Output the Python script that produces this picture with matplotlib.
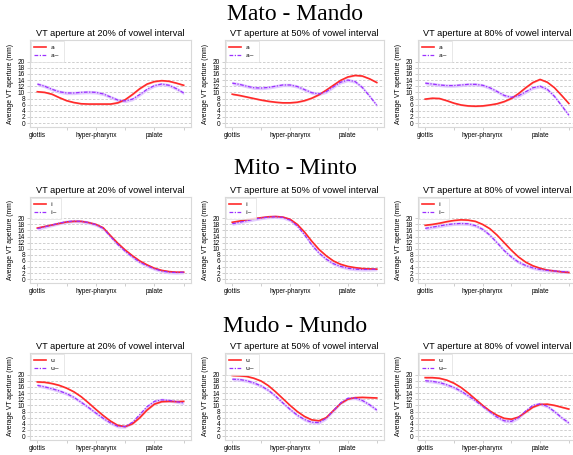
import numpy as np
import matplotlib
matplotlib.use("Agg")
import matplotlib.pyplot as plt

# ---------------- data ----------------
row_titles = ["Mato - Mando", "Mito - Minto", "Mudo - Mundo"]
col_titles = ["VT aperture at 20% of vowel interval",
              "VT aperture at 50% of vowel interval",
              "VT aperture at 80% of vowel interval"]
oral_labels = ["a", "i", "u"]
nasal_labels = ["a~", "i~", "u~"]
x_tick_labels = ["glottis", "", "hyper-pharynx", "", "palate", ""]
y_ticks = list(range(0, 21, 2))

# sampled at 21 equally spaced points from glottis to lips
a20_oral = [10.2, 10.0, 9.4, 8.3, 7.3, 6.7, 6.3, 6.2, 6.2, 6.2, 6.2, 6.6, 7.6, 9.3, 11.2, 12.7, 13.5, 13.8, 13.6, 13.0, 12.3]
a20_nasal = [12.7, 12.0, 11.0, 10.2, 9.8, 9.8, 10.0, 10.1, 10.0, 9.5, 8.5, 7.5, 7.2, 7.8, 9.3, 11.0, 12.2, 12.7, 12.3, 11.2, 9.8]
a50_oral = [9.4, 9.0, 8.5, 8.0, 7.5, 7.1, 6.8, 6.6, 6.6, 6.8, 7.3, 8.1, 9.2, 10.7, 12.3, 13.9, 15.0, 15.5, 15.3, 14.4, 13.2]
a50_nasal = [13.0, 12.6, 12.0, 11.5, 11.4, 11.6, 12.0, 12.4, 12.4, 11.9, 10.9, 9.9, 9.5, 10.2, 11.8, 13.3, 14.0, 13.5, 11.6, 8.8, 5.8]
a80_oral = [7.8, 8.1, 8.0, 7.3, 6.5, 5.9, 5.6, 5.5, 5.6, 5.9, 6.3, 7.0, 8.0, 9.6, 11.5, 13.2, 14.2, 13.3, 11.5, 9.0, 6.4]
a80_nasal = [13.0, 12.7, 12.4, 12.2, 12.2, 12.4, 12.6, 12.6, 12.3, 11.5, 10.3, 9.0, 8.4, 8.9, 10.2, 11.5, 12.0, 11.0, 8.7, 5.7, 2.6]

i20_oral = [16.8, 17.3, 17.8, 18.3, 18.8, 19.0, 19.0, 18.6, 18.0, 16.9, 14.3, 11.8, 9.6, 7.7, 6.0, 4.7, 3.6, 2.9, 2.5, 2.3, 2.3]
i20_nasal = [16.6, 17.2, 17.8, 18.4, 18.9, 19.1, 19.0, 18.6, 17.9, 16.7, 14.0, 11.4, 9.2, 7.3, 5.6, 4.4, 3.4, 2.7, 2.3, 2.2, 2.3]
i50_oral = [18.7, 19.1, 19.5, 19.9, 20.2, 20.5, 20.6, 20.4, 19.7, 18.0, 15.5, 12.5, 9.8, 7.7, 6.0, 4.9, 4.2, 3.8, 3.5, 3.4, 3.3]
i50_nasal = [18.2, 18.7, 19.2, 19.7, 20.1, 20.4, 20.5, 20.3, 19.4, 17.5, 14.6, 11.3, 8.6, 6.6, 5.1, 4.2, 3.6, 3.3, 3.2, 3.2, 3.3]
i80_oral = [17.7, 18.0, 18.4, 18.9, 19.3, 19.5, 19.4, 19.0, 18.0, 16.6, 14.5, 12.0, 9.5, 7.3, 5.6, 4.4, 3.6, 3.0, 2.7, 2.4, 2.2]
i80_nasal = [16.7, 17.1, 17.5, 17.9, 18.2, 18.3, 18.2, 17.6, 16.4, 14.5, 12.0, 9.4, 7.3, 5.6, 4.5, 3.7, 3.2, 2.9, 2.7, 2.5, 2.4]

u20_oral = [17.6, 17.5, 17.1, 16.5, 15.6, 14.4, 12.8, 10.8, 8.7, 6.7, 4.9, 3.5, 3.1, 4.0, 6.0, 8.5, 10.4, 11.2, 11.3, 11.2, 11.3]
u20_nasal = [16.5, 16.0, 15.4, 14.7, 13.8, 12.6, 11.0, 9.3, 7.5, 5.8, 4.3, 3.2, 3.1, 4.5, 7.0, 9.6, 11.3, 11.8, 11.6, 11.2, 10.8]
u50_oral = [19.7, 19.6, 19.4, 18.8, 17.9, 16.4, 14.4, 12.2, 10.0, 8.0, 6.4, 5.3, 5.0, 6.0, 8.3, 10.6, 12.0, 12.5, 12.6, 12.5, 12.4]
u50_nasal = [18.5, 18.4, 18.0, 17.3, 16.3, 14.9, 13.0, 10.8, 8.7, 6.8, 5.4, 4.5, 4.4, 5.8, 8.3, 10.8, 12.3, 12.4, 11.6, 10.2, 8.5]
u80_oral = [19.0, 19.0, 18.8, 18.2, 17.2, 15.8, 14.0, 12.0, 10.0, 8.2, 6.8, 5.8, 5.5, 6.2, 7.8, 9.4, 10.3, 10.4, 10.0, 9.4, 8.8]
u80_nasal = [18.0, 17.8, 17.4, 16.7, 15.8, 14.6, 13.1, 11.5, 9.7, 7.9, 6.2, 5.0, 4.8, 6.0, 8.2, 10.0, 10.5, 9.7, 8.0, 6.0, 4.3]

oral_ci = 0.25
nasal_ci = 0.55

panels = [
    [(a20_oral, a20_nasal), (a50_oral, a50_nasal), (a80_oral, a80_nasal)],
    [(i20_oral, i20_nasal), (i50_oral, i50_nasal), (i80_oral, i80_nasal)],
    [(u20_oral, u20_nasal), (u50_oral, u50_nasal), (u80_oral, u80_nasal)],
]

# ---------------- layout ----------------
W, H = 573, 455
fig = plt.figure(figsize=(W / 100, H / 100), dpi=100)

col_x = [(30, 191), (225, 384), (418, 576)]
row_y = [(40, 127), (197, 283), (353, 440)]
sup_y = [15, 169, 326]

red = "#ff2a2a"
purple = "#9b30ff"
grid_c = "#c8c8c8"
spine_c = "#d9d9d9"

for r in range(3):
    fig.text(295 / W, 1 - sup_y[r] / H, row_titles[r], ha="center", va="center",
             fontsize=17, family="Liberation Serif")
    for c in range(3):
        x0, x1 = col_x[c]
        y0, y1 = row_y[r]
        ax = fig.add_axes([x0 / W, 1 - y1 / H, (x1 - x0) / W, (y1 - y0) / H])
        oral, nasal = panels[r][c]
        oral = np.array(oral)
        nasal = np.array(nasal)
        xs = np.linspace(0, 5, len(oral))
        ax.fill_between(xs, oral - oral_ci, oral + oral_ci, color="#ffb3b3", lw=0, alpha=0.8)
        ax.fill_between(xs, nasal - nasal_ci, nasal + nasal_ci, color="#dcc0ff", lw=0, alpha=0.8)
        ax.plot(xs, oral, color=red, lw=1.2, label=oral_labels[r])
        ax.plot(xs, nasal, color=purple, lw=0.9, ls=(0, (3, 1.2, 1, 1.2)), label=nasal_labels[r])
        ax.set_xlim(-0.25, 5.25)
        ax.set_ylim(-1.25, 27.0)
        ax.set_xticks(range(6))
        ax.set_xticklabels(x_tick_labels, fontsize=4.7, family="Liberation Sans")
        ax.set_yticks(y_ticks)
        ax.set_yticklabels([str(v) for v in y_ticks], fontsize=4.7, family="Liberation Sans")
        ax.tick_params(length=2, width=0.5, color="#bbbbbb", pad=1.5)
        ax.grid(axis="y", ls=(0, (3, 2)), color=grid_c, lw=0.6)
        ax.set_axisbelow(True)
        for s in ax.spines.values():
            s.set_color(spine_c)
            s.set_linewidth(0.8)
        ax.set_ylabel("Average VT aperture (mm)", fontsize=4.9, family="Liberation Sans")
        ax.yaxis.set_label_coords(-16.0 / (x1 - x0), 0.5)
        ax.set_title(col_titles[c], fontsize=6.6, family="Liberation Sans", pad=3)
        leg = ax.legend(loc="upper left", fontsize=4.5, frameon=True, borderaxespad=0.1,
                        handlelength=1.8, fancybox=False, edgecolor="#dddddd",
                        borderpad=0.6, labelspacing=0.5)
        leg.get_frame().set_linewidth(0.6)

fig.savefig("out.png", dpi=100)
